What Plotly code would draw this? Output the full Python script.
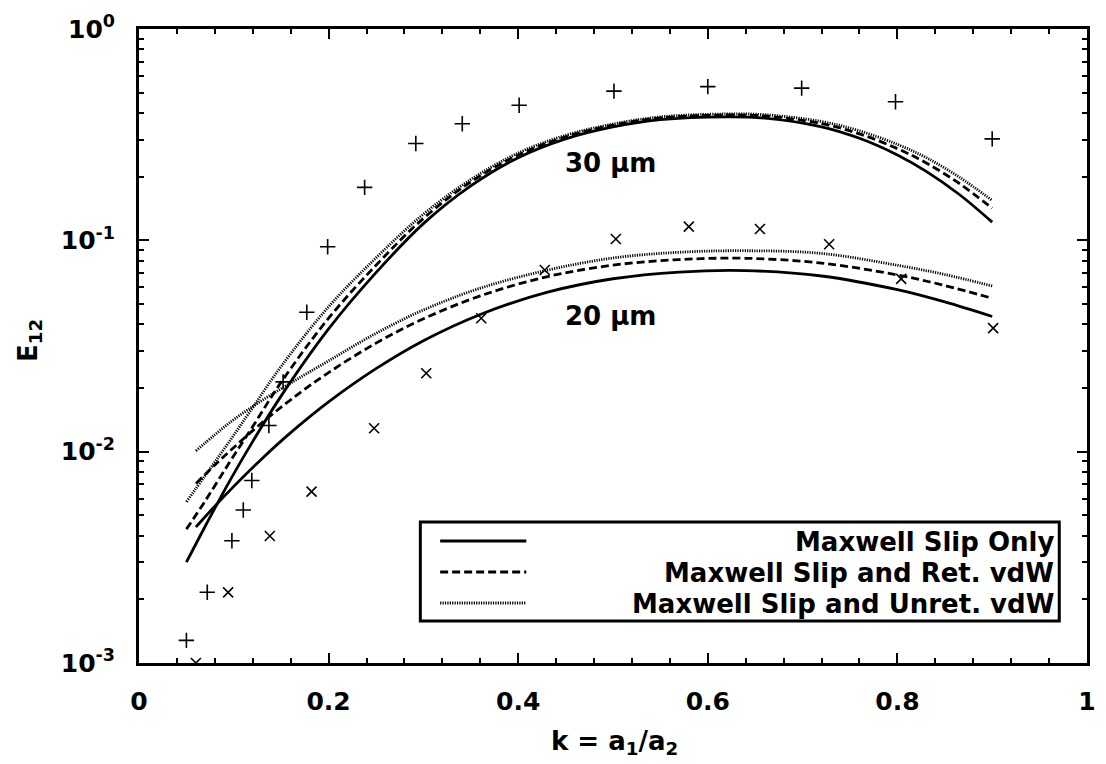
import plotly.graph_objects as go

# ---------------- data ----------------
# 30 um experimental points (+)
k_plus = [0.050, 0.072, 0.098, 0.110, 0.119, 0.137, 0.152, 0.177, 0.199, 0.238,
          0.292, 0.341, 0.401, 0.501, 0.600, 0.699, 0.798, 0.900]
e_plus = [0.00128, 0.00216, 0.00379, 0.0053, 0.0073, 0.0133, 0.0214, 0.0457, 0.0933, 0.178,
          0.287, 0.356, 0.436, 0.508, 0.534, 0.525, 0.453, 0.302]

# 20 um experimental points (x)
k_cross = [0.060, 0.094, 0.138, 0.182, 0.248, 0.303, 0.361, 0.428, 0.503, 0.580,
           0.655, 0.728, 0.804, 0.901]
e_cross = [0.00100, 0.00216, 0.00399, 0.00647, 0.0129, 0.0235, 0.0428, 0.0724, 0.1015, 0.1161,
           0.1132, 0.0958, 0.0657, 0.0384]

# 30 um model curves
k30 = [0.05, 0.07, 0.095, 0.12, 0.15, 0.20, 0.25, 0.30, 0.35, 0.40, 0.45, 0.50, 0.55,
       0.62, 0.66, 0.72, 0.76, 0.80, 0.83, 0.865, 0.90]
e30_slip = [0.00300, 0.00445, 0.00718, 0.01119, 0.01837, 0.0381, 0.0703, 0.120, 0.181, 0.246, 0.302,
            0.344, 0.3725, 0.384, 0.379, 0.3446, 0.304, 0.2535, 0.2125, 0.1652, 0.1219]
e30_ret = [0.00430, 0.00586, 0.00883, 0.01315, 0.02133, 0.0428, 0.0762, 0.127, 0.189, 0.2535, 0.309,
           0.351, 0.3796, 0.3917, 0.3876, 0.3567, 0.319, 0.2716, 0.2330, 0.1862, 0.1419]
e30_unret = [0.00579, 0.00773, 0.01112, 0.01618, 0.02535, 0.0485, 0.0826, 0.133, 0.194, 0.259, 0.314,
             0.355, 0.3840, 0.3963, 0.3930, 0.3650, 0.3296, 0.2844, 0.2468, 0.1995, 0.1545]

# 20 um model curves
k20 = [0.06, 0.08, 0.10, 0.13, 0.16, 0.20, 0.25, 0.30, 0.36, 0.43, 0.50, 0.57, 0.64,
       0.72, 0.80, 0.85, 0.90]
e20_slip = [0.00440, 0.00552, 0.00685, 0.00929, 0.0123, 0.0172, 0.0247, 0.0335, 0.0446, 0.0567,
            0.0658, 0.0708, 0.0719, 0.0678, 0.0584, 0.0511, 0.0436]
e20_ret = [0.00706, 0.00865, 0.01047, 0.01374, 0.0176, 0.02368, 0.03262, 0.04251, 0.0546, 0.06721,
           0.0763, 0.08109, 0.08222, 0.0780, 0.0686, 0.0611, 0.0532]
e20_unret = [0.01009, 0.01202, 0.01419, 0.0175, 0.02113, 0.0269, 0.0363, 0.0468, 0.0594, 0.0721,
             0.0825, 0.0878, 0.0893, 0.0867, 0.0762, 0.0689, 0.0608]

legend_labels = ["Maxwell Slip Only", "Maxwell Slip and Ret. vdW", "Maxwell Slip and Unret. vdW"]
curve_labels = ["30 μm", "20 μm"]
y_tickvals = [1e-3, 1e-2, 1e-1, 1]
y_ticktext = ["10<sup>-3</sup>", "10<sup>-2</sup>", "10<sup>-1</sup>", "10<sup>0</sup>"]

# ---------------- styling ----------------
FONT = "DejaVu Sans"
W, H = 1106, 764
L, R, T, B = 139, 10, 29, 101
PW, PH = W - L - R, H - T - B


def px2paper_x(px):
    return (px - L) / PW


def px2paper_y(py):
    return (H - B - py) / PH


dash_styles = ["solid", "8px,4px", "1.2px,1.2px"]
line_w = 2.8
black = "black"

fig = go.Figure()

for e, d in zip([e30_slip, e30_ret, e30_unret], dash_styles):
    fig.add_trace(go.Scatter(x=k30, y=e, mode="lines",
                             line=dict(color=black, width=line_w, dash=d, shape="spline", smoothing=1.0),
                             showlegend=False, hoverinfo="skip"))
for e, d in zip([e20_slip, e20_ret, e20_unret], dash_styles):
    fig.add_trace(go.Scatter(x=k20, y=e, mode="lines",
                             line=dict(color=black, width=line_w, dash=d, shape="spline", smoothing=1.0),
                             showlegend=False, hoverinfo="skip"))

fig.add_trace(go.Scatter(x=k_plus, y=e_plus, mode="markers",
                         marker=dict(symbol="cross-thin", size=11, line=dict(color=black, width=1.6)),
                         showlegend=False))
fig.add_trace(go.Scatter(x=k_cross, y=e_cross, mode="markers",
                         marker=dict(symbol="x-thin", size=10, line=dict(color=black, width=1.6)),
                         showlegend=False))

tickfont = dict(family=FONT, size=25, color=black, weight="bold")
txtfont = dict(family=FONT, size=26, color=black, weight="bold")

fig.update_xaxes(range=[0, 1], dtick=0.2, tick0=0, ticks="inside", ticklen=10, tickwidth=2,
                 tickcolor=black, showline=True, linewidth=3, linecolor=black, mirror="ticks",
                 showgrid=False, zeroline=False, tickfont=tickfont, ticklabelstandoff=14,
                 minor=dict(ticks="inside", dtick=0.04, ticklen=5, tickwidth=2, tickcolor=black, showgrid=False))
fig.update_yaxes(type="log", range=[-3, 0], tickvals=y_tickvals, ticktext=y_ticktext,
                 ticks="inside", ticklen=10, tickwidth=2, tickcolor=black,
                 showline=True, linewidth=3, linecolor=black, mirror="ticks",
                 showgrid=False, zeroline=False, tickfont=tickfont, ticklabelstandoff=16,
                 minor=dict(ticks="inside", dtick="D1", ticklen=5, tickwidth=2, tickcolor=black, showgrid=False))

annos = []
# axis titles
annos.append(dict(text="k = a<sub>1</sub>/a<sub>2</sub>", xref="paper", yref="paper",
                  x=px2paper_x(619), y=px2paper_y(742), xanchor="center", yanchor="middle",
                  showarrow=False, font=txtfont))
annos.append(dict(text="E<sub>12</sub>", xref="paper", yref="paper", textangle=-90,
                  x=px2paper_x(28), y=px2paper_y(341), xanchor="center", yanchor="middle",
                  showarrow=False, font=txtfont))
# curve labels
annos.append(dict(text=curve_labels[0], x=0.4975, y=-0.634, xref="x", yref="y",
                  xanchor="center", yanchor="middle", showarrow=False, font=txtfont))
annos.append(dict(text=curve_labels[1], x=0.4975, y=-1.358, xref="x", yref="y",
                  xanchor="center", yanchor="middle", showarrow=False, font=txtfont))

# legend drawn by hand (labels right-aligned as in the original)
shapes = []
box_l, box_r, box_t, box_b = 423, 1068, 522, 621
shapes.append(dict(type="rect", xref="paper", yref="paper",
                   x0=px2paper_x(box_l), x1=px2paper_x(box_r), y0=px2paper_y(box_b), y1=px2paper_y(box_t),
                   line=dict(color=black, width=3), fillcolor="white", layer="above"))
row_y = [541, 572, 603]
for lab, d, ry in zip(legend_labels, dash_styles, row_y):
    shapes.append(dict(type="line", xref="paper", yref="paper",
                       x0=px2paper_x(443), x1=px2paper_x(530), y0=px2paper_y(ry), y1=px2paper_y(ry),
                       line=dict(color=black, width=line_w, dash=d), layer="above"))
    annos.append(dict(text=lab, xref="paper", yref="paper", x=px2paper_x(1065), y=px2paper_y(ry + 1),
                      xanchor="right", yanchor="middle", showarrow=False, font=txtfont))

fig.update_layout(width=W, height=H, margin=dict(l=L, r=R, t=T, b=B),
                  paper_bgcolor="white", plot_bgcolor="white",
                  annotations=annos, shapes=shapes, showlegend=False)

fig.write_html("out.html", config={"displayModeBar": False},
               post_script="document.body.style.margin='0px';document.body.style.overflow='hidden';")
